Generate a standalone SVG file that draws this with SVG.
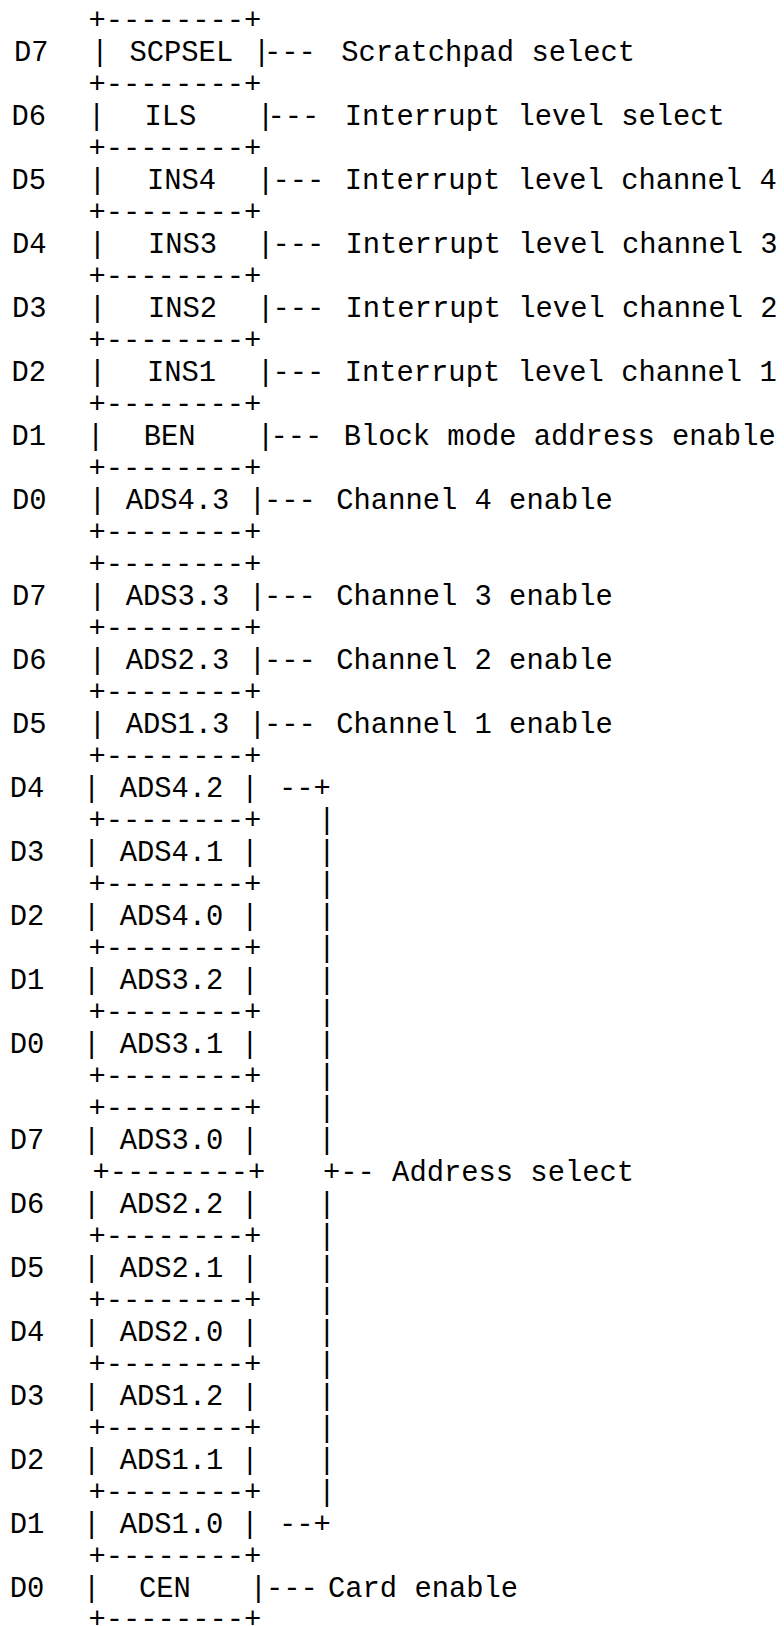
<svg xmlns="http://www.w3.org/2000/svg" width="784" height="1626" viewBox="0 0 784 1626">
  <style>
    text { font-family: "Liberation Mono", "Courier New", monospace; font-size: 28.8px; fill: #000; white-space: pre; }
    .c { text-anchor: middle; }
  </style>
  <rect width="784" height="1626" fill="#fff"/>

  <!-- cell borders -->
  <g id="borders">
    <text x="88.5" y="29">+--------+</text>
    <text x="88.5" y="93">+--------+</text>
    <text x="88.5" y="157">+--------+</text>
    <text x="88.5" y="221">+--------+</text>
    <text x="88.5" y="285">+--------+</text>
    <text x="88.5" y="349">+--------+</text>
    <text x="88.5" y="413">+--------+</text>
    <text x="88.5" y="477">+--------+</text>
    <text x="88.5" y="541">+--------+</text>
    <text x="88.5" y="573">+--------+</text>
    <text x="88.5" y="637">+--------+</text>
    <text x="88.5" y="701">+--------+</text>
    <text x="88.5" y="765">+--------+</text>
    <text x="88.5" y="829">+--------+</text>
    <text x="88.5" y="893">+--------+</text>
    <text x="88.5" y="957">+--------+</text>
    <text x="88.5" y="1021">+--------+</text>
    <text x="88.5" y="1085">+--------+</text>
    <text x="88.5" y="1117">+--------+</text>
    <text x="92.5" y="1181">+--------+</text>
    <text x="88.5" y="1245">+--------+</text>
    <text x="88.5" y="1309">+--------+</text>
    <text x="88.5" y="1373">+--------+</text>
    <text x="88.5" y="1437">+--------+</text>
    <text x="88.5" y="1501">+--------+</text>
    <text x="88.5" y="1565">+--------+</text>
    <text x="88.5" y="1628">+--------+</text>
  </g>

  <!-- first register byte -->
  <g id="a-d7"><text x="14" y="61">D7</text><text class="c" x="100" y="61">|</text><text x="129.5" y="61">SCPSEL</text></g>
  <g id="a-d6"><text x="11.5" y="125">D6</text><text class="c" x="96.7" y="125">|</text><text x="144.5" y="125">ILS</text></g>
  <g id="a-d5"><text x="11.5" y="189">D5</text><text class="c" x="97.3" y="189">|</text><text x="147" y="189">INS4</text></g>
  <g id="a-d4"><text x="12" y="253">D4</text><text class="c" x="97.3" y="253">|</text><text x="148" y="253">INS3</text></g>
  <g id="a-d3"><text x="12" y="317">D3</text><text class="c" x="97.3" y="317">|</text><text x="148" y="317">INS2</text></g>
  <g id="a-d2"><text x="11.5" y="381">D2</text><text class="c" x="97.3" y="381">|</text><text x="147" y="381">INS1</text></g>
  <g id="a-d1"><text x="11.5" y="445">D1</text><text class="c" x="95.7" y="445">|</text><text x="143.7" y="445">BEN</text></g>
  <g id="a-d0"><text x="12" y="509">D0</text><text class="c" x="97.3" y="509">|</text><text x="125.7" y="509">ADS4.3</text></g>

  <!-- second register byte -->
  <g id="b-d7"><text x="12" y="605">D7</text><text class="c" x="97.3" y="605">|</text><text x="125.7" y="605">ADS3.3</text></g>
  <g id="b-d6"><text x="12" y="669">D6</text><text class="c" x="97.3" y="669">|</text><text x="125.7" y="669">ADS2.3</text></g>
  <g id="b-d5"><text x="12" y="733">D5</text><text class="c" x="97.3" y="733">|</text><text x="125.7" y="733">ADS1.3</text></g>
  <g id="b-d4"><text x="9.7" y="797">D4</text><text class="c" x="91.7" y="797">|</text><text x="119.7" y="797">ADS4.2</text><text class="c" x="250" y="797">|</text></g>
  <g id="b-d3"><text x="9.7" y="861">D3</text><text class="c" x="91.7" y="861">|</text><text x="119.7" y="861">ADS4.1</text><text class="c" x="250" y="861">|</text></g>
  <g id="b-d2"><text x="9.7" y="925">D2</text><text class="c" x="91.7" y="925">|</text><text x="119.7" y="925">ADS4.0</text><text class="c" x="250" y="925">|</text></g>
  <g id="b-d1"><text x="9.7" y="989">D1</text><text class="c" x="91.7" y="989">|</text><text x="119.7" y="989">ADS3.2</text><text class="c" x="250" y="989">|</text></g>
  <g id="b-d0"><text x="9.7" y="1053">D0</text><text class="c" x="91.7" y="1053">|</text><text x="119.7" y="1053">ADS3.1</text><text class="c" x="250" y="1053">|</text></g>

  <!-- third register byte -->
  <g id="c-d7"><text x="9.7" y="1149">D7</text><text class="c" x="91.7" y="1149">|</text><text x="119.7" y="1149">ADS3.0</text><text class="c" x="250" y="1149">|</text></g>
  <g id="c-d6"><text x="9.7" y="1213">D6</text><text class="c" x="91.7" y="1213">|</text><text x="119.7" y="1213">ADS2.2</text><text class="c" x="250" y="1213">|</text></g>
  <g id="c-d5"><text x="9.7" y="1277">D5</text><text class="c" x="91.7" y="1277">|</text><text x="119.7" y="1277">ADS2.1</text><text class="c" x="250" y="1277">|</text></g>
  <g id="c-d4"><text x="9.7" y="1341">D4</text><text class="c" x="91.7" y="1341">|</text><text x="119.7" y="1341">ADS2.0</text><text class="c" x="250" y="1341">|</text></g>
  <g id="c-d3"><text x="9.7" y="1405">D3</text><text class="c" x="91.7" y="1405">|</text><text x="119.7" y="1405">ADS1.2</text><text class="c" x="250" y="1405">|</text></g>
  <g id="c-d2"><text x="9.7" y="1469">D2</text><text class="c" x="91.7" y="1469">|</text><text x="119.7" y="1469">ADS1.1</text><text class="c" x="250" y="1469">|</text></g>
  <g id="c-d1"><text x="9.7" y="1533">D1</text><text class="c" x="91.7" y="1533">|</text><text x="119.7" y="1533">ADS1.0</text><text class="c" x="250" y="1533">|</text></g>
  <g id="c-d0"><text x="9.7" y="1597">D0</text><text class="c" x="91.7" y="1597">|</text><text x="139" y="1597">CEN</text></g>

  <!-- right cell wall with its leader, then the field description -->
  <g id="connectors">
    <text x="253.1" y="61" dx="0 -6.4">|---</text>
    <text x="341.3" y="61">Scratchpad select</text>
    <text x="257.1" y="125" dx="0 -6.9">|---</text>
    <text x="344.7" y="125">Interrupt level select</text>
    <text x="257.1" y="189" dx="0 -1.9">|---</text>
    <text x="344.7" y="189">Interrupt level channel 4</text>
    <text x="257.1" y="253" dx="0 -1.9">|---</text>
    <text x="345.5" y="253">Interrupt level channel 3</text>
    <text x="257.1" y="317" dx="0 -1.9">|---</text>
    <text x="345.5" y="317">Interrupt level channel 2</text>
    <text x="257.1" y="381" dx="0 -1.9">|---</text>
    <text x="344.7" y="381">Interrupt level channel 1</text>
    <text x="257.1" y="445" dx="0 -3.9">|---</text>
    <text x="343.7" y="445">Block mode address enable</text>
    <text x="248.7" y="509" dx="0 -2">|---</text>
    <text x="336.3" y="509">Channel 4 enable</text>
    <text x="248.7" y="605" dx="0 -2">|---</text>
    <text x="336.3" y="605">Channel 3 enable</text>
    <text x="248.7" y="669" dx="0 -2">|---</text>
    <text x="336.3" y="669">Channel 2 enable</text>
    <text x="248.7" y="733" dx="0 -2">|---</text>
    <text x="336.3" y="733">Channel 1 enable</text>
    <text x="249.7" y="1597" dx="0 -1">|---</text>
    <text x="328" y="1597">Card enable</text>

    <g id="address-bracket">
      <text x="279" y="797">--+</text>
      <text class="c" x="327" y="829">|</text>
      <text class="c" x="327" y="861">|</text>
      <text class="c" x="327" y="893">|</text>
      <text class="c" x="327" y="925">|</text>
      <text class="c" x="327" y="957">|</text>
      <text class="c" x="327" y="989">|</text>
      <text class="c" x="327" y="1021">|</text>
      <text class="c" x="327" y="1053">|</text>
      <text class="c" x="327" y="1085">|</text>
      <text class="c" x="327" y="1117">|</text>
      <text class="c" x="327" y="1149">|</text>
      <text x="323" y="1181">+-- Address select</text>
      <text class="c" x="327" y="1213">|</text>
      <text class="c" x="327" y="1245">|</text>
      <text class="c" x="327" y="1277">|</text>
      <text class="c" x="327" y="1309">|</text>
      <text class="c" x="327" y="1341">|</text>
      <text class="c" x="327" y="1373">|</text>
      <text class="c" x="327" y="1405">|</text>
      <text class="c" x="327" y="1437">|</text>
      <text class="c" x="327" y="1469">|</text>
      <text class="c" x="327" y="1501">|</text>
      <text x="279" y="1533">--+</text>
    </g>
  </g>
</svg>
